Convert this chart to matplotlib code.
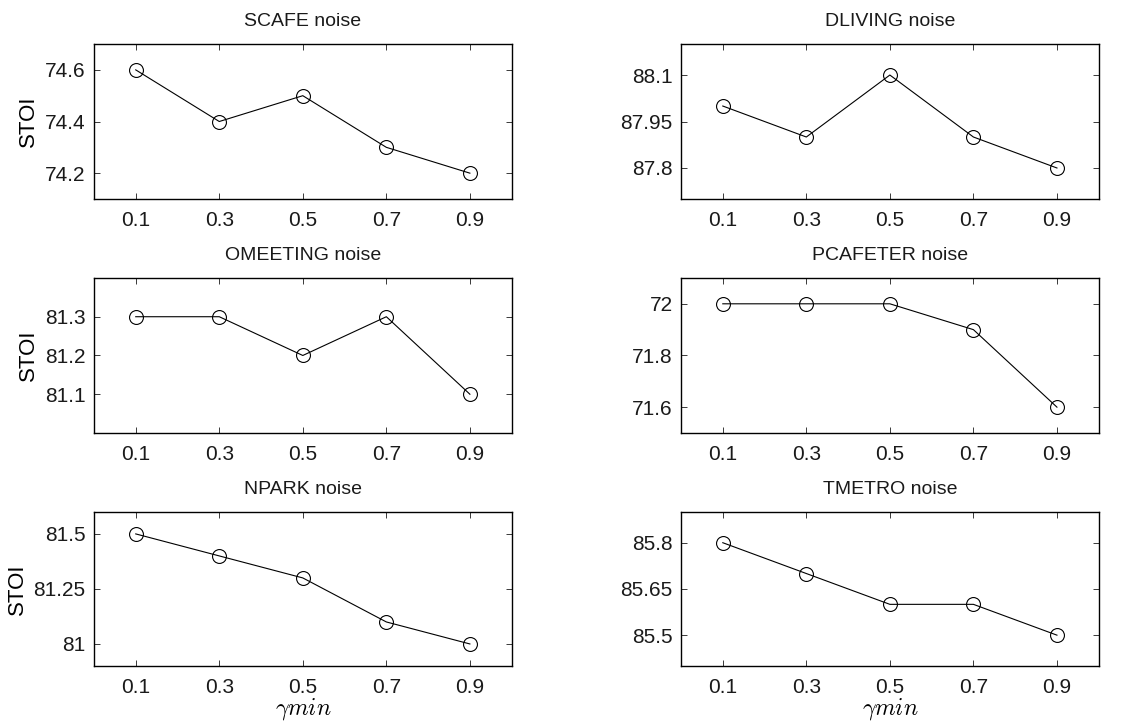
import matplotlib
matplotlib.use("Agg")
import matplotlib.pyplot as plt

plt.rcParams["font.family"] = ["Liberation Sans", "DejaVu Sans"]
plt.rcParams["mathtext.fontset"] = "cm"

gamma = [0.1, 0.3, 0.5, 0.7, 0.9]

titles = ["SCAFE noise", "DLIVING noise", "OMEETING noise",
          "PCAFETER noise", "NPARK noise", "TMETRO noise"]
scafe = [74.6, 74.4, 74.5, 74.3, 74.2]
dliving = [88.0, 87.9, 88.1, 87.9, 87.8]
omeeting = [81.3, 81.3, 81.2, 81.3, 81.1]
pcafeter = [72.0, 72.0, 72.0, 71.9, 71.6]
npark = [81.5, 81.4, 81.3, 81.1, 81.0]
tmetro = [85.8, 85.7, 85.6, 85.6, 85.5]
series = [scafe, dliving, omeeting, pcafeter, npark, tmetro]

yticks = [[74.2, 74.4, 74.6], [87.8, 87.95, 88.1], [81.1, 81.2, 81.3],
          [71.6, 71.8, 72.0], [81.0, 81.25, 81.5], [85.5, 85.65, 85.8]]
yticklabels = [["74.2", "74.4", "74.6"], ["87.8", "87.95", "88.1"],
               ["81.1", "81.2", "81.3"], ["71.6", "71.8", "72"],
               ["81", "81.25", "81.5"], ["85.5", "85.65", "85.8"]]
ylims = [(74.1, 74.7), (87.7, 88.2), (81.0, 81.4),
         (71.5, 72.1), (80.9, 81.6), (85.4, 85.9)]

fig = plt.figure(figsize=(11.32, 7.22), dpi=100)

lefts = [0.083, 0.6016]
width = 0.369
rows = [(0.7244, 0.2146), (0.4003, 0.2147), (0.0776, 0.2134)]

for i in range(6):
    r, c = divmod(i, 2)
    bottom, height = rows[r]
    ax = fig.add_axes([lefts[c], bottom, width, height])
    ax.plot(gamma, series[i], color="black", lw=0.8, marker="o",
            markersize=10, markerfacecolor="none", markeredgewidth=0.8)
    ax.set_xlim(0, 1)
    ax.set_ylim(*ylims[i])
    ax.set_xticks(gamma)
    ax.set_xticklabels(["0.1", "0.3", "0.5", "0.7", "0.9"])
    ax.set_yticks(yticks[i])
    ax.set_yticklabels(yticklabels[i])
    ax.tick_params(direction="in", top=True, right=True, length=4,
                   width=0.6, labelsize=15, colors="#1a1a1a")
    ax.tick_params(axis="x", pad=9)
    ax.tick_params(axis="y", pad=6)
    for s in ax.spines.values():
        s.set_linewidth(1.0)
    ax.set_title(titles[i], fontsize=14, pad=13, color="#1a1a1a")
    if c == 0:
        ax.set_ylabel("STOI", fontsize=16, labelpad=4)
    if r == 2:
        ax.set_xlabel(r"$\gamma min$", fontsize=17, labelpad=-1)

fig.savefig("out.png", dpi=100)
